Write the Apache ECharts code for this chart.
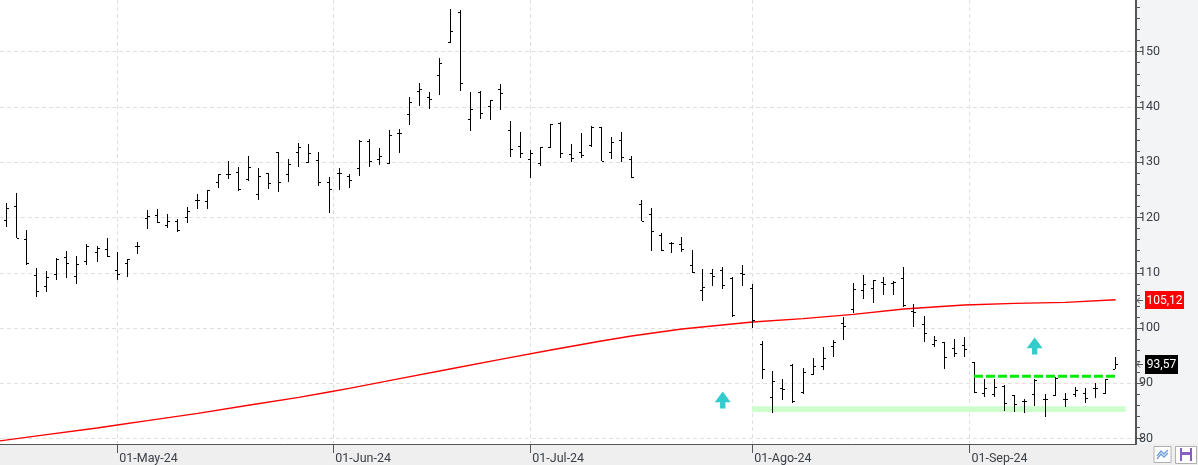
<!DOCTYPE html>
<html>
<head>
<meta charset="utf-8">
<title>Bar chart</title>
<style>
  html, body { margin: 0; padding: 0; background: #f3f4f6; overflow: hidden; }
  #strip { position: absolute; left: 0; top: 444px; width: 1198px; height: 21px; background: #efefef; }
  #main { position: absolute; left: 0; top: 0; width: 1198px; height: 465px; }
</style>
<script src="https://cdn.jsdelivr.net/npm/echarts@6/dist/echarts.min.js"></script>
</head>
<body>
<div id="strip"></div>
<div id="main"></div>
<script type="text/javascript">
// precios de cada sesion
var opens = [119.48,122.02,116.05,109.53,107.54,109.77,112.79,109.35,112.07,113.69,
  114.24,110.44,111.70,114.90,119.85,120.39,118.58,119.30,120.03,123.10,
  122.92,126.36,127.93,128.29,127.02,124.19,127.99,131.85,127.81,131.79,
  129.98,130.34,126.48,128.11,127.51,128.89,133.78,130.52,129.92,135.29,
  138.66,142.83,141.86,145.72,151.81,157.12,137.76,142.64,140.11,143.19,
  135.77,132.87,130.52,129.92,132.69,137.04,131.43,131.79,133.05,136.31,
  131.79,133.96,130.52,122.51,120.58,116.78,115.33,115.15,111.35,106.83,
  109.90,110.45,109.06,109.90,107.19,97.06,87.47,89.10,93.26,88.37,
  91.63,93.08,96.70,100.86,103.39,106.83,107.19,108.27,108.09,109.00,
  103.03,100.67,97.05,97.53,96.33,96.87,93.79,88.19,88.01,89.45,
  87.82,86.74,88.01,87.10,87.94,87.10,88.00,88.19,89.15,88.31,92.53];
var highs = [122.56,124.37,117.68,110.80,110.26,112.73,113.88,112.97,115.14,114.78,
  116.23,113.69,112.43,115.50,121.29,121.47,120.57,119.67,121.84,124.19,
  125.03,127.93,130.16,129.07,131.12,128.89,127.99,131.91,130.52,133.42,
  133.30,131.79,127.27,128.89,127.87,133.96,134.14,132.51,135.83,136.01,
  141.74,144.27,142.64,148.80,157.66,157.48,142.64,142.83,141.20,144.09,
  137.40,135.41,132.15,132.69,136.85,137.22,133.24,135.23,136.49,136.43,
  134.50,135.41,131.06,123.11,121.66,117.14,115.51,116.42,114.06,110.63,
  110.63,110.99,109.18,111.35,107.91,97.60,92.17,90.72,93.44,92.71,
  94.52,96.51,97.78,101.94,108.09,109.54,108.64,109.18,108.46,110.99,
  104.29,102.18,98.56,97.53,98.02,98.32,93.79,90.72,90.72,89.63,
  87.82,87.10,90.72,88.01,91.08,88.19,89.39,89.09,90.12,90.84,94.70];
var lows = [118.34,116.23,111.46,105.67,106.58,108.75,109.11,108.03,111.46,112.01,
  112.91,108.75,109.29,113.45,117.98,119.06,118.10,117.43,119.06,121.60,
  121.60,125.40,127.02,124.85,126.66,123.22,125.21,124.67,126.48,129.20,
  129.92,125.76,120.87,124.97,125.34,127.57,129.19,129.50,129.68,131.73,
  136.79,140.23,139.69,142.22,151.63,142.95,135.71,137.88,137.70,139.51,
  131.00,130.82,127.21,129.38,132.51,130.82,130.10,130.82,132.69,130.16,
  130.64,130.10,127.21,119.31,114.00,113.88,113.64,113.82,109.90,104.96,
  107.67,107.13,102.06,107.67,99.95,90.85,84.69,87.05,86.50,88.01,
  91.45,92.47,94.83,97.90,102.67,105.32,104.60,106.04,106.04,103.87,
  100.25,97.53,96.63,92.65,94.82,94.82,88.19,87.58,87.58,84.99,
  84.87,84.69,85.95,83.96,87.76,85.77,87.46,86.38,87.40,88.13,92.53];
var closes = [121.78,116.23,111.76,106.76,109.17,112.55,111.70,111.52,114.84,114.42,
  112.97,109.71,112.43,114.78,120.27,119.12,119.30,117.80,121.23,123.10,
  124.97,127.87,127.87,125.21,129.07,127.45,126.30,126.36,129.62,132.81,
  131.61,126.36,125.09,128.11,126.72,133.78,130.16,131.12,134.86,135.29,
  140.84,143.19,141.38,147.89,153.68,144.27,139.57,138.97,141.20,142.46,
  132.33,131.61,131.61,132.69,136.85,131.61,130.70,131.25,136.43,130.28,
  133.60,130.88,127.39,119.43,117.50,114.19,115.45,114.25,110.08,107.37,
  109.36,107.73,102.43,109.72,101.40,92.53,90.36,88.92,86.74,91.99,
  93.08,94.52,97.54,100.31,107.01,107.91,108.64,107.91,108.27,104.23,
  102.85,99.04,97.78,94.70,95.42,96.21,88.37,89.09,89.39,86.38,
  86.20,86.86,90.60,87.10,90.90,87.10,88.79,87.28,89.15,90.72,93.57];

var maSessions = [-1,4,9,11,14,19,24,29,32,34,39,44,49,54,59,62,67,72,74,79,84,89,95,100,105,110];
var maValues = [79.50,80.71,81.92,82.46,83.24,84.57,86.02,87.46,88.43,89.09,90.84,92.59,94.34,96.03,97.66,
  98.56,99.83,100.73,101.09,101.70,102.48,103.45,104.17,104.47,104.65,105.12];

var dateTicks = [11, 32.42, 51.96, 73.97, 95.5];
var dateLabels = ['01-May-24', '01-Jun-24', '01-Jul-24', '01-Ago-24', '01-Sep-24'];
var priceTicks = [80, 90, 100, 110, 120, 130, 140, 150];
var priceMinorTicks = [82,84,86,88,92,94,96,98,102,104,106,108,112,114,116,118,122,124,126,128,
  132,134,136,138,142,144,146,148,152,154,156,158];

var arrowPoints = [[71.04, 86.98], [101.97, 96.75]];
var resistance = [[95.95, 91.26], [110, 91.26]];
var supportBand = [[73.97, 85.84], [111, 84.81]];
var lastMa = 105.12;
var lastClose = 93.57;

var xMin = -0.625, xMax = 112.02;
var yMin = 79.02, yMax = 159.35;
var fontName = 'Roboto';
var textColor = '#3a4048';
var axisColor = '#555555';

var myChart = echarts.init(document.getElementById('main'), null, { renderer: 'canvas' });

var barRows = opens.map(function (o, i) {
  return [i, o, highs[i], lows[i], closes[i]];
});
var maRows = maSessions.map(function (s, i) {
  return [s, maValues[i]];
});

function renderBar(params, api) {
  var i = api.value(0);
  var o = api.coord([i, api.value(1)]);
  var h = api.coord([i, api.value(2)]);
  var l = api.coord([i, api.value(3)]);
  var c = api.coord([i, api.value(4)]);
  var x = Math.round(o[0] - 0.5);
  var top = Math.round(h[1]);
  var bottom = Math.round(l[1]);
  var style = { fill: '#000000' };
  return {
    type: 'group',
    children: [
      { type: 'rect', shape: { x: x, y: top, width: 1, height: Math.max(bottom - top, 1) }, style: style },
      { type: 'rect', shape: { x: x - 2, y: Math.round(o[1]), width: 2, height: 1 }, style: style },
      { type: 'rect', shape: { x: x + 1, y: Math.round(c[1]), width: 2, height: 1 }, style: style }
    ]
  };
}

// etiqueta de precio junto al eje, con su flechita
function renderPriceTag(params, api) {
  var value = api.value(1);
  var p = api.coord([xMax, value]);
  var y = Math.round(p[1]);
  var isRed = params.dataIndex === 0;
  var w = isRed ? 39 : 33;
  var h = isRed ? 18 : 19;
  var lineStyle = { stroke: axisColor, lineWidth: 1, fill: null };
  return {
    type: 'group',
    children: [
      { type: 'polyline', shape: { points: [[p[0] + 7, y + 0.5], [p[0] + 1, y + 0.5]] }, style: lineStyle },
      { type: 'polyline', shape: { points: [[p[0] + 4, y - 2.5], [p[0] + 1, y + 0.5], [p[0] + 4, y + 3.5]] }, style: lineStyle },
      { type: 'rect', shape: { x: p[0] + 9, y: y - Math.floor(h / 2), width: w, height: h }, style: { fill: isRed ? '#ff0000' : '#000000' } },
      { type: 'text', style: {
          text: value.toFixed(2).replace('.', ','),
          x: p[0] + 9 + w / 2, y: y + 0.5,
          textAlign: 'center', textVerticalAlign: 'middle',
          fill: '#ffffff', font: '12px ' + fontName
      } }
    ]
  };
}

var option = {
  animation: false,
  backgroundColor: 'transparent',
  grid: { left: 0, right: 62, top: 0, bottom: 21, show: true, backgroundColor: '#ffffff', borderWidth: 0 },
  xAxis: {
    type: 'value',
    min: xMin,
    max: xMax,
    axisLine: { show: true, onZero: false, lineStyle: { color: axisColor, width: 1 } },
    axisTick: { show: true, customValues: dateTicks, length: 9, lineStyle: { color: axisColor } },
    axisLabel: {
      customValues: dateTicks,
      align: 'left',
      margin: 8,
      padding: [0, 0, 0, 2],
      color: textColor,
      fontFamily: fontName,
      fontSize: 12.5,
      formatter: function (v) {
        return dateLabels[dateTicks.indexOf(v)];
      }
    },
    splitLine: { show: true, lineStyle: { color: '#e0e0e0', type: [4, 3], width: 1 } }
  },
  yAxis: [
    {
      type: 'value',
      position: 'right',
      min: yMin,
      max: yMax,
      axisLine: { show: true, onZero: false, lineStyle: { color: axisColor, width: 2 } },
      axisTick: { show: true, customValues: priceTicks, length: 7, lineStyle: { color: axisColor } },
      axisLabel: {
        customValues: priceTicks,
        margin: 3,
        color: textColor,
        fontFamily: fontName,
        fontSize: 12.5
      },
      splitLine: { show: true, lineStyle: { color: '#e0e0e0', type: [4, 3], width: 1 } }
    },
    {
      // solo las marcas menores del eje
      type: 'value',
      position: 'right',
      min: yMin,
      max: yMax,
      axisLine: { show: false, onZero: false },
      axisTick: { show: true, customValues: priceMinorTicks, length: 4, lineStyle: { color: axisColor } },
      axisLabel: { show: false },
      splitLine: { show: false }
    }
  ],
  series: [
    {
      // banda de soporte
      type: 'line',
      yAxisIndex: 1,
      data: [],
      z: 1,
      silent: true,
      markArea: {
        silent: true,
        itemStyle: { color: '#ccffcc' },
        data: [[{ coord: supportBand[0] }, { coord: supportBand[1] }]]
      }
    },
    {
      type: 'line',
      data: maRows,
      z: 2,
      silent: true,
      symbol: 'none',
      lineStyle: { color: '#ff0000', width: 1.4 }
    },
    {
      type: 'custom',
      data: barRows,
      z: 3,
      silent: true,
      encode: { x: 0, y: [1, 2, 3, 4] },
      renderItem: renderBar
    },
    {
      type: 'line',
      data: resistance,
      z: 4,
      silent: true,
      symbol: 'none',
      lineStyle: { color: '#00ee00', width: 3, type: [9, 3] }
    },
    {
      type: 'scatter',
      data: arrowPoints,
      z: 4,
      silent: true,
      symbol: 'path://M7.5 0 L15 10 L10 10 L10 16 L5 16 L5 10 L0 10 Z',
      symbolSize: [16, 17],
      itemStyle: { color: '#33cccc', opacity: 1 }
    },
    {
      type: 'custom',
      data: [[xMax, lastMa], [xMax, lastClose]],
      z: 5,
      silent: true,
      clip: false,
      renderItem: renderPriceTag
    }
  ],
  graphic: [
    { type: 'rect', shape: { x: 1154, y: 446.5, width: 17, height: 16 }, style: { fill: '#ffffff', stroke: '#b0b0b0', lineWidth: 1 } },
    { type: 'polyline', shape: { points: [[1157, 456], [1161, 451], [1164, 454], [1168, 450]] }, style: { stroke: '#6f9fd8', lineWidth: 1.3, fill: null } },
    { type: 'polyline', shape: { points: [[1157, 459], [1161, 454], [1164, 457], [1168, 453]] }, style: { stroke: '#6f9fd8', lineWidth: 1.3, fill: null } },
    { type: 'rect', shape: { x: 1175.5, y: 446.5, width: 21, height: 17 }, style: { fill: '#ffffff', stroke: '#b0b0b0', lineWidth: 1 } },
    { type: 'rect', shape: { x: 1180, y: 448, width: 12, height: 13 }, style: { fill: '#8a5cc5' } },
    { type: 'rect', shape: { x: 1182, y: 448, width: 8, height: 4 }, style: { fill: '#ffffff' } },
    { type: 'rect', shape: { x: 1182, y: 455, width: 8, height: 6 }, style: { fill: '#ffffff' } }
  ]
};

myChart.setOption(option);
</script>
</body>
</html>
